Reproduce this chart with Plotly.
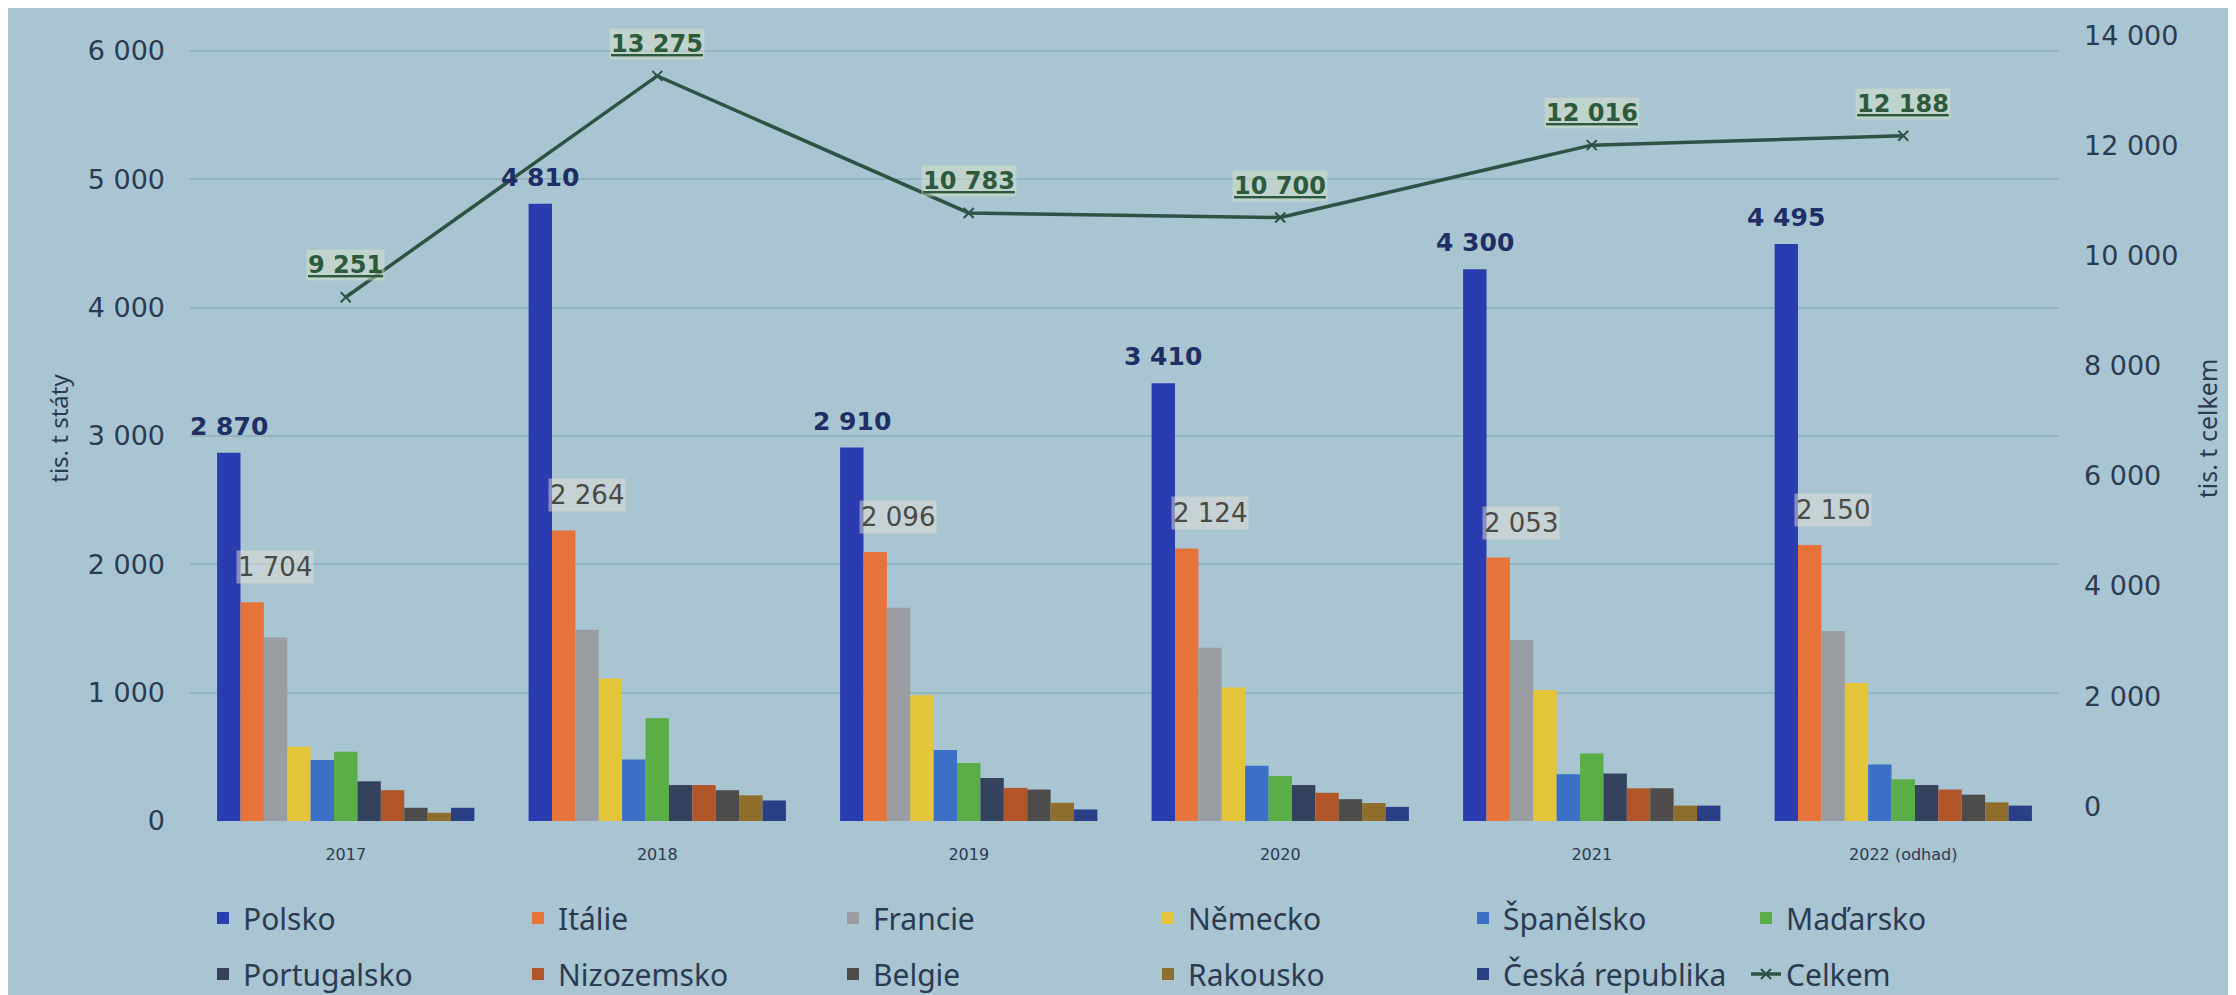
import plotly.graph_objects as go

years = ["2017", "2018", "2019", "2020", "2021", "2022 (odhad)"]
countries = ["Polsko", "Itálie", "Francie", "Německo", "Španělsko", "Maďarsko",
             "Portugalsko", "Nizozemsko", "Belgie", "Rakousko", "Česká republika"]

polsko = [2870, 4810, 2910, 3410, 4300, 4495]
italie = [1704, 2264, 2096, 2124, 2053, 2150]
francie = [1430, 1490, 1661, 1350, 1410, 1480]
nemecko = [579, 1110, 979, 1040, 1020, 1075]
spanelsko = [476, 480, 554, 430, 365, 440]
madarsko = [540, 800, 451, 350, 525, 325]
portugalsko = [309, 280, 335, 280, 370, 280]
nizozemsko = [240, 280, 258, 220, 255, 245]
belgie = [103, 240, 245, 170, 255, 205]
rakousko = [64, 200, 142, 140, 120, 145]
ceska = [103, 160, 90, 110, 120, 120]
celkem = [9251, 13275, 10783, 10700, 12016, 12188]

series = [polsko, italie, francie, nemecko, spanelsko, madarsko,
          portugalsko, nizozemsko, belgie, rakousko, ceska]
colors = ["#2a3cb0", "#e6743a", "#9a9ea2", "#e4c53a", "#3a70c6", "#5aae48",
          "#34425e", "#b0562a", "#4e4c4a", "#8e6e2c", "#2a3f86"]
# which legend block each country goes to (two rows, sixth column separate)
legend_of = ["legend"] * 5 + ["legend3"] + ["legend2"] * 5

xi = list(range(len(years)))  # category positions on the x axis


def fmt(v):
    return f"{v:,}".replace(",", " ")


W, H = 2236, 995
ML, MR, MT, MB = 182, 185, 25, 182
plot_w = W - ML - MR
plot_h = H - MT - MB
cat_px = plot_w / len(years)
bargap = 0.174
bw = (1 - bargap) / len(series) * cat_px
off0 = -(1 - bargap) / 2 * cat_px

# left axis: 6000 sits 15 px below plot top; right axis shifted up 15 px (photo tilt)
left_max = 6000 * plot_h / (plot_h - 15)
right_min = -15 * 14000 / (plot_h - 15)

text_col = "#2c3a52"
font_family = "Noto Sans"
num_font = "DejaVu Sans"

fig = go.Figure()
for name, vals, col, lg in zip(countries, series, colors, legend_of):
    fig.add_trace(go.Bar(
        x=xi, y=vals, name=name, marker_color=col, marker_line_width=0,
        legend=lg,
    ))

fig.add_trace(go.Scatter(
    x=xi, y=celkem, name="Celkem", yaxis="y2", mode="lines+markers",
    line=dict(color="#2f5247", width=3.5),
    marker=dict(symbol="x-thin", size=10, line=dict(color="#2f5247", width=2)),
    legend="legend4",
))

annotations = []
for x, v in zip(xi, polsko):
    annotations.append(dict(
        x=x, y=v, xref="x", yref="y", text=fmt(v),
        showarrow=False, xanchor="center", yanchor="bottom",
        xshift=off0 + bw / 2, yshift=10,
        font=dict(size=25, color="#1f2f66", family=num_font, weight="bold"),
    ))
for x, v in zip(xi, italie):
    annotations.append(dict(
        x=x, y=v, xref="x", yref="y", text=fmt(v),
        showarrow=False, xanchor="left", yanchor="bottom",
        xshift=off0 + bw - 4, yshift=18,
        bgcolor="rgba(228,224,214,0.5)",
        font=dict(size=26, color="#4a4a48", family=num_font),
    ))
for x, v in zip(xi, celkem):
    annotations.append(dict(
        x=x, y=v, xref="x", yref="y2", text=fmt(v),
        showarrow=False, xanchor="center", yanchor="bottom", yshift=16,
        bgcolor="rgba(215,225,200,0.5)",
        font=dict(size=24, color="#2d5a3c", family=num_font, weight="bold",
                  lineposition="under"),
    ))

legend_common = dict(
    orientation="h", xref="container", yref="container",
    xanchor="left", yanchor="middle",
    entrywidth=270, entrywidthmode="pixels",
    font=dict(size=30, color=text_col, family=font_family),
    bgcolor="rgba(0,0,0,0)", traceorder="normal",
)
row1 = 1 - 910 / H
row2 = 1 - 966 / H
col1 = 195 / W
col6 = 1738 / W

fig.update_layout(
    width=W, height=H,
    margin=dict(l=ML, r=MR, t=MT, b=MB),
    paper_bgcolor="#a8c5d1", plot_bgcolor="#a8c5d1",
    barmode="group", bargap=bargap, bargroupgap=0,
    separators=", ",
    font=dict(family=font_family, color=text_col),
    xaxis=dict(
        range=[-0.5, len(years) - 0.5], tickvals=xi, ticktext=years,
        showgrid=False, zeroline=False, showline=False,
        ticks="", tickfont=dict(size=16, color=text_col, family=num_font),
        ticklabelstandoff=22,
    ),
    yaxis=dict(
        range=[0, left_max], tickvals=[0, 1000, 2000, 3000, 4000, 5000, 6000],
        tickformat=",d",
        showgrid=True, gridcolor="rgba(110,145,160,0.35)", gridwidth=1.5,
        zeroline=False, showline=False, ticks="",
        tickfont=dict(size=27, color=text_col, family=num_font), ticklabelstandoff=24,
        title=dict(text="tis. t státy", font=dict(size=24, color=text_col), standoff=12),
    ),
    yaxis2=dict(
        range=[right_min, 14000], dtick=2000, tick0=0, tickformat=",d",
        overlaying="y", side="right",
        showgrid=False, zeroline=False, showline=False, ticks="",
        tickfont=dict(size=27, color=text_col, family=num_font), ticklabelstandoff=24,
        title=dict(text="tis. t celkem", font=dict(size=25, color=text_col), standoff=22),
    ),
    legend=dict(x=col1, y=row1, **legend_common),
    legend2=dict(x=col1, y=row2, **legend_common),
    legend3=dict(x=col6, y=row1, **legend_common),
    legend4=dict(x=col6, y=row2, **legend_common),
    annotations=annotations,
    showlegend=True,
)

fig.write_html("out.html")
